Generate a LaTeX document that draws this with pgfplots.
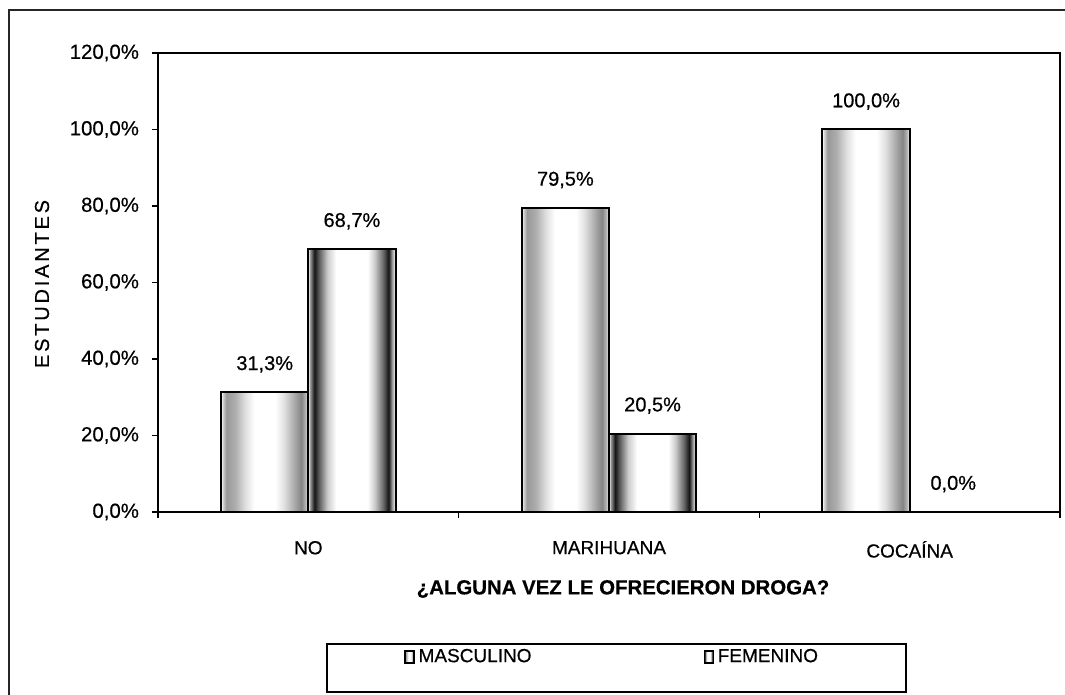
\documentclass[border=0pt]{standalone}
\usepackage{fontspec}
\setmainfont{Liberation Sans}[FakeBold=0.5]
\newfontfamily\spaced[LetterSpace=14, FakeBold=0.5]{Liberation Sans}
\usepackage{pgfplots}
\pgfplotsset{compat=1.18}
\pgfdeclarehorizontalshading{masc}{100bp}{color(0bp)=(white); color(25bp)=(white); color(26bp)=(black!18); color(28bp)=(black!40); color(33bp)=(black!32); color(39bp)=(black!12); color(44bp)=(white); color(56bp)=(white); color(61bp)=(black!12); color(66bp)=(black!30); color(71bp)=(black!48); color(73.5bp)=(black!28); color(75bp)=(white); color(100bp)=(white)}
\pgfdeclarehorizontalshading{fem}{100bp}{color(0bp)=(white); color(25bp)=(white); color(26bp)=(black!40); color(28.5bp)=(black!92); color(31bp)=(black!65); color(36bp)=(black!20); color(41bp)=(white); color(59bp)=(white); color(63bp)=(black!20); color(68bp)=(black!60); color(71bp)=(black!92); color(73bp)=(black!40); color(75bp)=(white); color(100bp)=(white)}
\pgfplotsset{
  mascbar/.style={draw=black, line width=1pt, shading=masc, bar shift=-0.145},
  fembar/.style={draw=black, line width=1pt, shading=fem, bar shift=0.145},
}
\begin{document}
\begin{tikzpicture}
\useasboundingbox (0,0) rectangle (532.5pt,347.5pt);
\draw[line width=0.8pt, black!85] (4.5pt,0pt) -- (4.5pt,342.5pt) -- (532.5pt,342.5pt);
\begin{axis}[
  at={(79pt,91.5pt)}, anchor=south west,
  scale only axis, width=451pt, height=229.5pt,
  xmin=-0.5, xmax=2.5, ymin=0, ymax=120,
  axis line style={line width=1pt},
  tick pos=left, tick align=outside,
  major tick length=3pt,
  tick style={line width=0.8pt, black},
  ytick={0,20,...,120},
  yticklabel={\fontsize{10.2}{12}\selectfont\pgfmathprintnumber[fixed,fixed zerofill,precision=1,use comma,assume math mode=true]{\tick}\%},
  yticklabel style={xshift=-3pt},
  xtick={-0.5,0.5,1.5,2.5}, xticklabels={},
  extra x ticks={0,1,2},
  extra x tick labels={NO,MARIHUANA,COCAÍNA},
  extra x tick style={tick style={draw=none}, xticklabel style={font=\fontsize{9.5}{11}\selectfont, yshift=-8pt}},
  ybar, bar width=0.29,
  nodes near coords={\pgfmathprintnumber[fixed,fixed zerofill,precision=1,use comma,assume math mode=true]{\pgfplotspointmeta}\%},
  every node near coord/.append style={font=\fontsize{10}{12}\selectfont, yshift=6pt, black},
  legend style={at={(0.2727,-0.316)}, anchor=west, draw=none, fill=none, inner sep=0pt,
    font=\fontsize{9.5}{11}\selectfont, legend columns=2,
    /tikz/every even column/.append style={column sep=84pt}},
  legend image code/.code={\draw[#1, line width=0.6pt] (0pt,-3pt) rectangle (4.5pt,3pt);},
]
\addplot[mascbar] coordinates {(0,31.3)};
\addlegendentry{MASCULINO}
\addplot[fembar] coordinates {(0,68.7)};
\addlegendentry{FEMENINO}
\addplot[mascbar, forget plot] coordinates {(1,79.5)};
\addplot[fembar, forget plot] coordinates {(1,20.5)};
\addplot[mascbar, forget plot] coordinates {(2,100.0)};
\addplot[draw=black, line width=1pt, fill=none, bar shift=0.145, forget plot] coordinates {(2,0.0)};
\end{axis}
\node[rotate=90, font=\spaced\fontsize{10}{12}\selectfont] at (21pt,205.5pt) {ESTUDIANTES};
\node[font=\bfseries\fontsize{10.2}{12}\selectfont] at (311.5pt,53pt) {¿ALGUNA VEZ LE OFRECIERON DROGA?};
\draw[line width=0.6pt] (163.5pt,25.5pt) rectangle (453pt,1.5pt);
\end{tikzpicture}
\end{document}
